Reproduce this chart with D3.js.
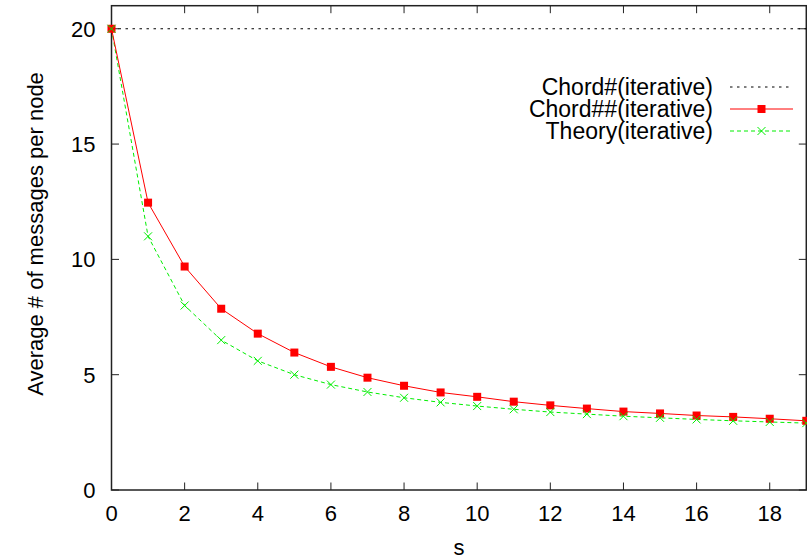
<!DOCTYPE html>
<html><head><meta charset="utf-8">
<script src="https://cdn.jsdelivr.net/npm/d3@7"></script>
<style>body{margin:0;background:#fff}svg text{font-family:"Liberation Sans",Arial,sans-serif;fill:#000}</style>
</head><body>
<svg id="c" width="807" height="559"></svg>
<script>
const sValues = [0,1,2,3,4,5,6,7,8,9,10,11,12,13,14,15,16,17,18,19];
const chordSharp = [20,20,20,20,20,20,20,20,20,20,20,20,20,20,20,20,20,20,20,20];
const chordDouble = [20,12.46,9.69,7.86,6.78,5.96,5.34,4.87,4.52,4.23,4.04,3.83,3.67,3.53,3.40,3.32,3.23,3.17,3.09,3.0];
const theory = [20,11,8,6.5,5.6,5.0,4.57,4.25,4.0,3.8,3.64,3.5,3.38,3.29,3.2,3.13,3.06,3.0,2.95,2.9];
const xTicks = [0,2,4,6,8,10,12,14,16,18];
const yTicks = [0,5,10,15,20];
const seriesNames = ["Chord#(iterative)","Chord##(iterative)","Theory(iterative)"];

const svg = d3.select("#c");
const L=111.5, R=806.3, T=5.7, B=490;
const x = d3.scaleLinear().domain([0,19]).range([L,R]);
const y = d3.scaleLinear().domain([0,21]).range([B,T]);
const fs = 22;
const axisColor = "#222";
const green = "#00ee00";

// ticks (inward, mirrored)
const tk = 7.5;
const g = svg.append("g");
yTicks.forEach(v=>{
  g.append("line").attr("x1",L).attr("x2",L+tk).attr("y1",y(v)).attr("y2",y(v)).attr("stroke",axisColor).attr("stroke-width",1);
  g.append("line").attr("x1",R-tk).attr("x2",R).attr("y1",y(v)).attr("y2",y(v)).attr("stroke",axisColor).attr("stroke-width",1);
  g.append("text").attr("x",L-16).attr("y",y(v)+8).attr("text-anchor","end").attr("font-size",fs).text(v);
});
xTicks.forEach(v=>{
  g.append("line").attr("x1",x(v)).attr("x2",x(v)).attr("y1",B).attr("y2",B-tk).attr("stroke",axisColor).attr("stroke-width",1);
  g.append("line").attr("x1",x(v)).attr("x2",x(v)).attr("y1",T).attr("y2",T+tk).attr("stroke",axisColor).attr("stroke-width",1);
  g.append("text").attr("x",x(v)).attr("y",521).attr("text-anchor","middle").attr("font-size",fs).text(v);
});
svg.append("rect").attr("x",L).attr("y",T).attr("width",R-L).attr("height",B-T).attr("fill","none").attr("stroke",axisColor).attr("stroke-width",1.5);

// axis labels
svg.append("text").attr("x",(L+R)/2).attr("y",555).attr("text-anchor","middle").attr("font-size",fs).text("s");
svg.append("text").attr("transform","translate(43,234) rotate(-90)").attr("text-anchor","middle").attr("font-size",fs).text("Average # of messages per node");

const line = d3.line().x((d,i)=>x(sValues[i])).y(d=>y(d));

// Chord#
svg.append("path").datum(chordSharp).attr("d",line).attr("fill","none").attr("stroke","#000").attr("stroke-width",1).attr("stroke-dasharray","2.5,4.5");
// Theory
svg.append("path").datum(theory).attr("d",line).attr("fill","none").attr("stroke",green).attr("stroke-width",1).attr("stroke-dasharray","4,3");
// Chord##
svg.append("path").datum(chordDouble).attr("d",line).attr("fill","none").attr("stroke","#ff0000").attr("stroke-width",1);

const ms = 8;
svg.append("g").selectAll("rect").data(chordDouble).join("rect")
  .attr("x",(d,i)=>x(sValues[i])-ms/2).attr("y",d=>y(d)-ms/2).attr("width",ms).attr("height",ms).attr("fill","#ff0000");
const cs = 4;
svg.append("g").selectAll("path").data(theory).join("path")
  .attr("d",(d,i)=>{const cx=x(sValues[i]),cy=y(d);return `M${cx-cs},${cy-cs}L${cx+cs},${cy+cs}M${cx-cs},${cy+cs}L${cx+cs},${cy-cs}`;})
  .attr("stroke",green).attr("stroke-width",1).attr("fill","none");

// legend
const lx1=730, lx2=793, tx=713;
const rows=[95,117,139];
const lfs = 23;
const lg = svg.append("g");
seriesNames.forEach((n,i)=>{
  lg.append("text").attr("x",tx).attr("y",rows[i]).attr("text-anchor","end").attr("font-size",lfs).text(n);
});
const ly = rows.map(r=>r-8);
lg.append("line").attr("x1",lx1).attr("x2",lx2).attr("y1",ly[0]).attr("y2",ly[0]).attr("stroke","#000").attr("stroke-dasharray","2.5,4.5");
lg.append("line").attr("x1",lx1).attr("x2",lx2).attr("y1",ly[1]).attr("y2",ly[1]).attr("stroke","#ff0000");
lg.append("rect").attr("x",(lx1+lx2)/2-ms/2).attr("y",ly[1]-ms/2).attr("width",ms).attr("height",ms).attr("fill","#ff0000");
lg.append("line").attr("x1",lx1).attr("x2",lx2).attr("y1",ly[2]).attr("y2",ly[2]).attr("stroke",green).attr("stroke-dasharray","4,3");
const mx=(lx1+lx2)/2, my=ly[2];
lg.append("path").attr("d",`M${mx-cs},${my-cs}L${mx+cs},${my+cs}M${mx-cs},${my+cs}L${mx+cs},${my-cs}`).attr("stroke",green).attr("fill","none");
</script>
</body></html>
